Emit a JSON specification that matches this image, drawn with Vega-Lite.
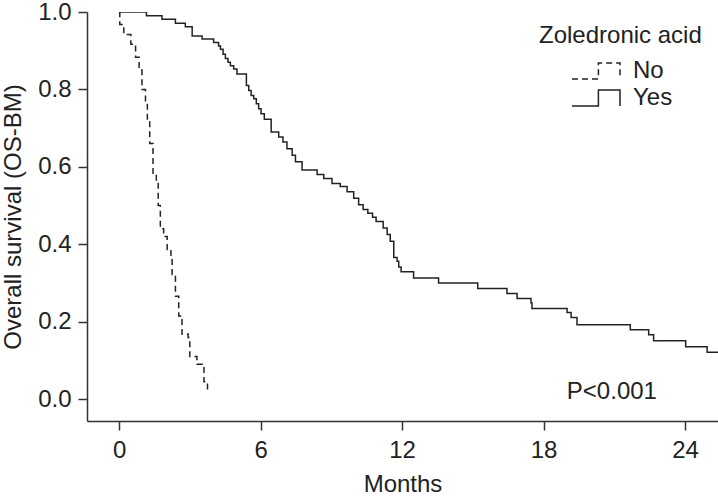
{
  "$schema": "https://vega.github.io/schema/vega-lite/v6.json",
  "width": 631,
  "height": 409,
  "autosize": "none",
  "padding": {"left": 87, "top": 12, "right": 0, "bottom": 75},
  "background": "white",
  "config": {
    "view": {"stroke": null},
    "font": "Liberation Sans",
    "axis": {
      "grid": false,
      "domainColor": "#333",
      "tickColor": "#333",
      "domainWidth": 1.5,
      "tickWidth": 1.5,
      "tickSize": 9,
      "labelFontSize": 24,
      "titleFontSize": 24,
      "labelColor": "#222",
      "titleColor": "#222",
      "titleFontWeight": "normal",
      "labelFont": "Liberation Sans",
      "titleFont": "Liberation Sans"
    },
    "legend": {
      "titleFontSize": 24,
      "labelFontSize": 24,
      "titleFontWeight": "normal",
      "titleColor": "#222",
      "labelColor": "#222",
      "titleFont": "Liberation Sans",
      "labelFont": "Liberation Sans"
    }
  },
  "layer": [
    {
      "data": {
        "values": [
          {"group": "No", "month": 0, "surv": 1.0},
          {"group": "No", "month": 0.03, "surv": 0.968},
          {"group": "No", "month": 0.2, "surv": 0.942},
          {"group": "No", "month": 0.5, "surv": 0.917},
          {"group": "No", "month": 0.7, "surv": 0.883},
          {"group": "No", "month": 0.85, "surv": 0.85},
          {"group": "No", "month": 0.97, "surv": 0.8},
          {"group": "No", "month": 1.12, "surv": 0.767},
          {"group": "No", "month": 1.2, "surv": 0.72},
          {"group": "No", "month": 1.3, "surv": 0.66},
          {"group": "No", "month": 1.44, "surv": 0.58},
          {"group": "No", "month": 1.58, "surv": 0.56},
          {"group": "No", "month": 1.66, "surv": 0.5},
          {"group": "No", "month": 1.75, "surv": 0.44},
          {"group": "No", "month": 1.89, "surv": 0.42},
          {"group": "No", "month": 2.04, "surv": 0.386},
          {"group": "No", "month": 2.2, "surv": 0.36},
          {"group": "No", "month": 2.25, "surv": 0.322},
          {"group": "No", "month": 2.39, "surv": 0.266},
          {"group": "No", "month": 2.53, "surv": 0.215},
          {"group": "No", "month": 2.67, "surv": 0.168},
          {"group": "No", "month": 2.93, "surv": 0.159},
          {"group": "No", "month": 3.0, "surv": 0.11},
          {"group": "No", "month": 3.3, "surv": 0.09},
          {"group": "No", "month": 3.6, "surv": 0.045},
          {"group": "No", "month": 3.75, "surv": 0.022},
          {"group": "No", "month": 3.87, "surv": 0.022},
          {"group": "Yes", "month": 0, "surv": 1.0},
          {"group": "Yes", "month": 1.16, "surv": 0.99},
          {"group": "Yes", "month": 1.82, "surv": 0.981},
          {"group": "Yes", "month": 2.39, "surv": 0.971},
          {"group": "Yes", "month": 2.81, "surv": 0.962},
          {"group": "Yes", "month": 3.1, "surv": 0.938},
          {"group": "Yes", "month": 3.52, "surv": 0.93},
          {"group": "Yes", "month": 4.01, "surv": 0.921},
          {"group": "Yes", "month": 4.22, "surv": 0.912},
          {"group": "Yes", "month": 4.3, "surv": 0.904},
          {"group": "Yes", "month": 4.41, "surv": 0.891},
          {"group": "Yes", "month": 4.51, "surv": 0.88},
          {"group": "Yes", "month": 4.62, "surv": 0.87},
          {"group": "Yes", "month": 4.72, "surv": 0.861},
          {"group": "Yes", "month": 4.86, "surv": 0.853},
          {"group": "Yes", "month": 5.0, "surv": 0.84},
          {"group": "Yes", "month": 5.4, "surv": 0.81},
          {"group": "Yes", "month": 5.5, "surv": 0.797},
          {"group": "Yes", "month": 5.6, "surv": 0.784},
          {"group": "Yes", "month": 5.71, "surv": 0.776},
          {"group": "Yes", "month": 5.82, "surv": 0.763},
          {"group": "Yes", "month": 5.92, "surv": 0.75},
          {"group": "Yes", "month": 6.02, "surv": 0.737},
          {"group": "Yes", "month": 6.16, "surv": 0.723},
          {"group": "Yes", "month": 6.45, "surv": 0.69},
          {"group": "Yes", "month": 6.77, "surv": 0.677},
          {"group": "Yes", "month": 6.95, "surv": 0.664},
          {"group": "Yes", "month": 7.12, "surv": 0.647},
          {"group": "Yes", "month": 7.34, "surv": 0.63},
          {"group": "Yes", "month": 7.48, "surv": 0.613},
          {"group": "Yes", "month": 7.76, "surv": 0.592},
          {"group": "Yes", "month": 8.4, "surv": 0.58},
          {"group": "Yes", "month": 8.68, "surv": 0.57},
          {"group": "Yes", "month": 9.03, "surv": 0.557},
          {"group": "Yes", "month": 9.38, "surv": 0.549},
          {"group": "Yes", "month": 9.67, "surv": 0.536},
          {"group": "Yes", "month": 9.95, "surv": 0.519},
          {"group": "Yes", "month": 10.16, "surv": 0.502},
          {"group": "Yes", "month": 10.35, "surv": 0.49},
          {"group": "Yes", "month": 10.55, "surv": 0.48},
          {"group": "Yes", "month": 10.75, "surv": 0.47},
          {"group": "Yes", "month": 10.9, "surv": 0.459},
          {"group": "Yes", "month": 11.2, "surv": 0.442},
          {"group": "Yes", "month": 11.37, "surv": 0.425},
          {"group": "Yes", "month": 11.5, "surv": 0.408},
          {"group": "Yes", "month": 11.65, "surv": 0.366},
          {"group": "Yes", "month": 11.79, "surv": 0.356},
          {"group": "Yes", "month": 11.86, "surv": 0.341},
          {"group": "Yes", "month": 11.96, "surv": 0.329},
          {"group": "Yes", "month": 12.49, "surv": 0.313},
          {"group": "Yes", "month": 13.55, "surv": 0.3},
          {"group": "Yes", "month": 15.21, "surv": 0.286},
          {"group": "Yes", "month": 16.45, "surv": 0.273},
          {"group": "Yes", "month": 16.88, "surv": 0.26},
          {"group": "Yes", "month": 17.47, "surv": 0.249},
          {"group": "Yes", "month": 17.51, "surv": 0.234},
          {"group": "Yes", "month": 19.0, "surv": 0.224},
          {"group": "Yes", "month": 19.17, "surv": 0.211},
          {"group": "Yes", "month": 19.42, "surv": 0.192},
          {"group": "Yes", "month": 21.68, "surv": 0.179},
          {"group": "Yes", "month": 22.46, "surv": 0.166},
          {"group": "Yes", "month": 22.67, "surv": 0.151},
          {"group": "Yes", "month": 24.03, "surv": 0.135},
          {"group": "Yes", "month": 24.94, "surv": 0.121},
          {"group": "Yes", "month": 25.4, "surv": 0.121}
        ]
      },
      "mark": {"type": "line", "interpolate": "step-after", "color": "#222", "strokeWidth": 1.5, "clip": true},
      "encoding": {
        "x": {
          "field": "month",
          "type": "quantitative",
          "scale": {"domain": [-1.36, 25.4], "nice": false, "zero": false},
          "axis": {"title": "Months", "values": [0, 6, 12, 18, 24], "labelPadding": 8, "titlePadding": 10}
        },
        "y": {
          "field": "surv",
          "type": "quantitative",
          "scale": {"domain": [-0.0565, 1.0], "nice": false, "zero": false},
          "axis": {"title": "Overall survival (OS-BM)", "values": [0, 0.2, 0.4, 0.6, 0.8, 1.0], "format": ".1f", "labelPadding": 7, "titlePadding": 12}
        },
        "strokeDash": {
          "field": "group",
          "type": "nominal",
          "scale": {"domain": ["No", "Yes"], "range": [[6, 4], [1, 0]]},
          "legend": {
            "title": "Zoledronic acid",
            "orient": "none",
            "legendX": 452,
            "legendY": 12,
            "padding": 0,
            "titlePadding": 10,
            "symbolType": "M-1,0.33H0.1V-0.33H1V0.33",
            "symbolSize": 2304,
            "symbolStrokeColor": "#222",
            "symbolStrokeWidth": 1.5,
            "symbolFillColor": "transparent",
            "symbolOffset": 32,
            "labelOffset": 12,
            "clipHeight": 26,
            "rowPadding": 1
          }
        }
      }
    },
    {
      "data": {"values": [{"month": 20.9, "surv": 0, "label": "P<0.001"}]},
      "mark": {"type": "text", "fontSize": 24, "baseline": "alphabetic", "align": "center", "color": "#222", "font": "Liberation Sans"},
      "encoding": {
        "x": {"field": "month", "type": "quantitative"},
        "y": {"field": "surv", "type": "quantitative"},
        "text": {"field": "label"}
      }
    }
  ]
}
